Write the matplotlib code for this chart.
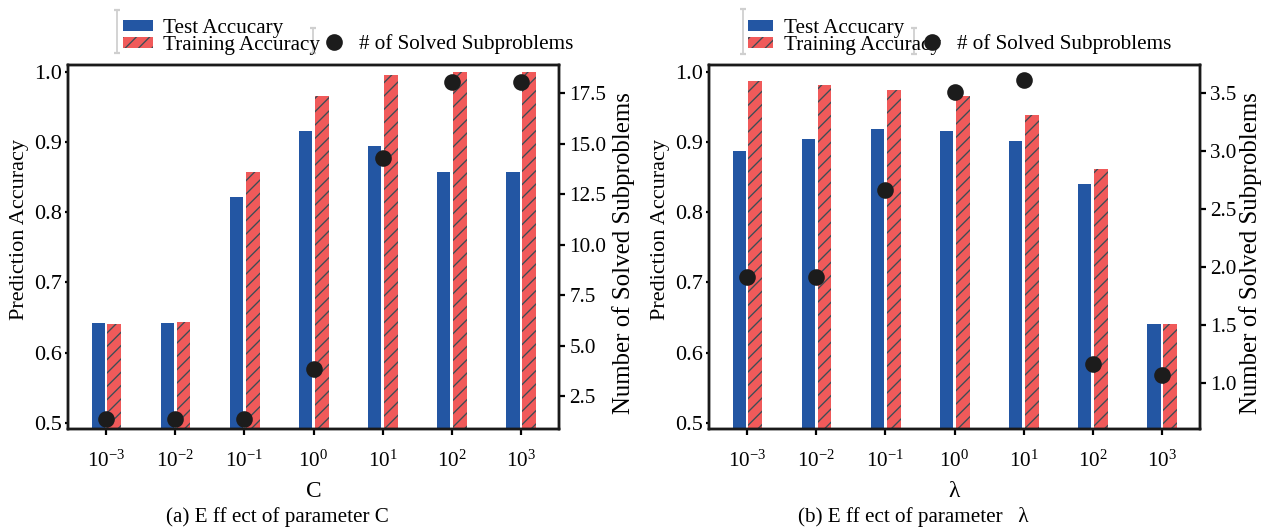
import matplotlib
matplotlib.use("Agg")
import matplotlib.pyplot as plt
import numpy as np
from matplotlib.patches import Patch
from matplotlib.lines import Line2D

plt.rcParams["font.family"] = ["Liberation Serif", "DejaVu Serif"]
plt.rcParams["mathtext.fontset"] = "custom"
plt.rcParams["mathtext.rm"] = "Liberation Serif"
plt.rcParams["mathtext.it"] = "Liberation Serif:italic"
plt.rcParams["hatch.linewidth"] = 0.6

# data
exps = ["-3", "-2", "-1", "0", "1", "2", "3"]
tick_labels = [r"$\mathregular{10^{%s}}$" % e for e in exps]

test_c = [0.642, 0.642, 0.822, 0.916, 0.895, 0.858, 0.858]
train_c = [0.641, 0.644, 0.857, 0.966, 0.996, 1.000, 1.000]
solved_c = [1.35, 1.35, 1.35, 3.82, 14.27, 18.05, 18.05]

test_l = [0.888, 0.905, 0.919, 0.916, 0.902, 0.841, 0.641]
train_l = [0.987, 0.982, 0.975, 0.966, 0.939, 0.862, 0.641]
solved_l = [1.91, 1.91, 2.66, 3.51, 3.61, 1.16, 1.07]

blue = "#2356a3"
red = "#f05a5a"
dot = "#1c1c1c"

W, H, DPI = 1269, 527, 160
fig = plt.figure(figsize=(W / DPI, H / DPI), dpi=DPI)


def px(x0, y0, x1, y1):
    return [x0 / W, 1 - y1 / H, (x1 - x0) / W, (y1 - y0) / H]


def panel(rect, test, train, solved, ylim2, yticks2, xlab, rlab_x):
    ax = fig.add_axes(rect)
    x = np.arange(len(test))
    ax.bar(x - 0.115, test, width=0.19, color=blue, zorder=2)
    ax.bar(x + 0.12, train, width=0.2, color=red, edgecolor="#3c4d55",
           linewidth=0, hatch="////", zorder=2)
    ax.set_xlim(-0.55, 6.55)
    ax.set_ylim(0.491, 1.01)
    ax.set_yticks([0.5, 0.6, 0.7, 0.8, 0.9, 1.0])
    ax.set_xticks(x)
    ax.set_xticklabels(tick_labels)
    ax.tick_params(axis="x", length=2.7, width=1.0, pad=7, labelsize=9.5)
    ax.tick_params(axis="y", length=1.5, width=1.0, pad=1, labelsize=10)
    ax.set_ylabel("Prediction Accuracy", fontsize=10)
    ax.yaxis.set_label_coords(-0.079, 0.547)
    ax.set_xlabel(xlab, fontsize=10.5, labelpad=4)
    for s in ax.spines.values():
        s.set_linewidth(1.1)
        s.set_color("#1a1a1a")

    ax2 = ax.twinx()
    ax2.scatter(x, solved, s=42, color=dot, zorder=5)
    ax2.set_ylim(*ylim2)
    ax2.set_yticks(yticks2)
    ax2.tick_params(axis="y", length=2.7, width=1.0, pad=2, labelsize=9.5)
    ax2.set_ylabel("Number of Solved Subproblems", fontsize=11.2)
    ax2.yaxis.set_label_coords(rlab_x, 0.484)
    for s in ax2.spines.values():
        s.set_linewidth(1.1)
        s.set_color("#1a1a1a")
    return ax


ax_a = panel(px(68, 65, 559, 429), test_c, train_c, solved_c, (0.87, 18.9),
             [2.5, 5.0, 7.5, 10.0, 12.5, 15.0, 17.5], "C", 1.108)
ax_b = panel(px(709, 65, 1200, 429), test_l, train_l, solved_l, (0.6, 3.74),
             [1.0, 1.5, 2.0, 2.5, 3.0, 3.5], "λ", 1.079)

bar_handles = [Patch(facecolor=blue), Patch(facecolor=red, edgecolor="#3c4d55",
                                           linewidth=0, hatch="////")]
bar_labels = ["Test Accucary", "Training Accuracy"]
dot_handle = [Line2D([], [], marker="o", linestyle="", color=dot, markersize=6.5)]


def legends(x_bar, hl, x_dot, brackets):
    fig.legend(bar_handles, bar_labels, loc="upper left",
               bbox_to_anchor=(x_bar / W, 1 - 19 / H), frameon=False,
               fontsize=9.5, borderpad=0, borderaxespad=0, handlelength=hl,
               handleheight=0.45, handletextpad=0.5, labelspacing=-0.08)
    fig.legend(dot_handle, ["# of Solved Subproblems"], loc="upper left",
               bbox_to_anchor=(x_dot / W, 1 - 34 / H), frameon=False,
               fontsize=9.5, borderpad=0, borderaxespad=0, handlelength=1.0,
               handletextpad=0.7)
    for bx, y0, y1 in brackets:
        fig.add_artist(Line2D([bx / W, bx / W], [1 - y0 / H, 1 - y1 / H],
                              transform=fig.transFigure, color="#cfcfcf",
                              linewidth=0.8, marker="_", markersize=3))


legends(123, 1.4, 323, [(117, 10, 53), (313, 28, 53)])
legends(748, 1.2, 921, [(743, 9, 54), (914, 28, 54)])

fig.text(277 / W, 1 - 517 / H, "(a) E ff ect of parameter C", ha="center",
         va="center", fontsize=9.5)
fig.text(913 / W, 1 - 517 / H, "(b) E ff ect of parameter   λ", ha="center",
         va="center", fontsize=9.5)

fig.savefig("out.png", dpi=DPI)
